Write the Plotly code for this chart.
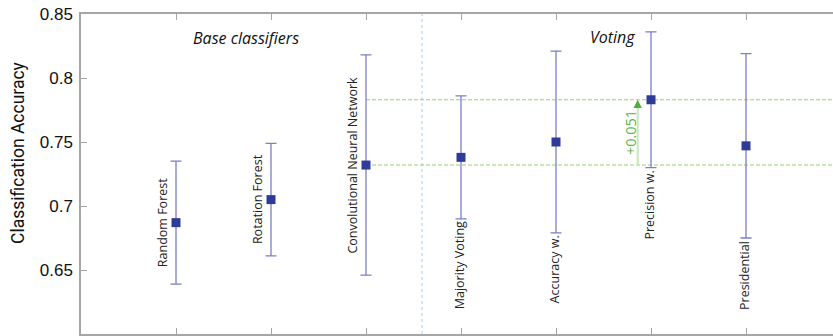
import plotly.graph_objects as go

# Classifier results: mean accuracy with lower / upper bounds
classifiers = ["Random Forest", "Rotation Forest", "Convolutional Neural Network",
               "Majority Voting", "Accuracy w.", "Precision w.", "Presidential"]
groups = ["base", "base", "base", "voting", "voting", "voting", "voting"]
accuracy = [0.687, 0.705, 0.732, 0.738, 0.750, 0.783, 0.747]
upper = [0.735, 0.749, 0.818, 0.786, 0.821, 0.836, 0.819]
lower = [0.639, 0.661, 0.646, 0.690, 0.679, 0.730, 0.675]
y_ticks = [0.65, 0.7, 0.75, 0.8, 0.85]

positions = list(range(1, len(classifiers) + 1))
err_plus = [u - a for u, a in zip(upper, accuracy)]
err_minus = [a - l for a, l in zip(accuracy, lower)]

X_MAX = 752 / 95.0
AXIS_GREY = "#a6a6a6"
BAR_BLUE = "#7b7fc8"
MARK_BLUE = "#2f3b98"

fig = go.Figure()
fig.add_trace(go.Scatter(
    x=positions, y=accuracy, mode="markers",
    marker=dict(symbol="square", size=9, color=MARK_BLUE),
    error_y=dict(type="data", symmetric=False, array=err_plus, arrayminus=err_minus,
                 color=BAR_BLUE, thickness=1.3, width=5.5),
    showlegend=False, hoverinfo="skip",
))

shapes = []
# reference levels: best base classifier and best voting scheme
base_best = accuracy[2]
vote_best = accuracy[5]
for level in (base_best, vote_best):
    shapes.append(dict(type="line", xref="x", yref="y", x0=positions[2], x1=X_MAX,
                       y0=level, y1=level,
                       line=dict(color="#94d46c", width=1, dash="4px,2px"),
                       layer="below"))
# separator between base classifiers and voting schemes
shapes.append(dict(type="line", xref="x", yref="paper", x0=3.59, x1=3.59, y0=0, y1=1,
                   line=dict(color="#9fd0f2", width=1, dash="dot"), layer="below"))
# gain arrow stem
arrow_x = 5.86
shapes.append(dict(type="line", xref="x", yref="y", x0=arrow_x, x1=arrow_x,
                   y0=base_best, y1=vote_best - 0.004,
                   line=dict(color="#c6e8b6", width=2)))

annotations = []
for i, (name, grp) in enumerate(zip(classifiers, groups)):
    if grp == "base":
        annotations.append(dict(x=positions[i], y=accuracy[i], xref="x", yref="y",
                                text=name, textangle=-90, showarrow=False,
                                xanchor="center", yanchor="middle", xshift=-13.5,
                                font=dict(family="Open Sans", size=12.5, color="#222222")))
    else:
        annotations.append(dict(x=positions[i], y=lower[i], xref="x", yref="y",
                                text=name, textangle=-90, showarrow=False,
                                xanchor="center", yanchor="top", xshift=-1.5, yshift=-1,
                                font=dict(family="Open Sans", size=12.5, color="#222222")))

annotations.append(dict(x=arrow_x, y=vote_best, xref="x", yref="y", showarrow=True,
                        ax=0, ay=7, arrowhead=2, arrowsize=1.1, arrowwidth=1.5,
                        arrowcolor="#4fae3a", standoff=0, text=""))
annotations.append(dict(x=arrow_x, y=(base_best + vote_best) / 2, xref="x", yref="y",
                        text="+%.3f" % (vote_best - base_best), textangle=-90,
                        showarrow=False, xanchor="center", yanchor="middle", xshift=-7,
                        font=dict(family="Open Sans", size=14.5, color="#5cb547")))
annotations.append(dict(x=1.74, y=0.831, xref="x", yref="y", text="<i>Base classifiers</i>",
                        showarrow=False, xanchor="center", yanchor="middle",
                        font=dict(family="Open Sans", size=16, color="#111111")))
annotations.append(dict(x=5.59, y=0.832, xref="x", yref="y", text="<i>Voting</i>",
                        showarrow=False, xanchor="center", yanchor="middle",
                        font=dict(family="Open Sans", size=16, color="#111111")))
annotations.append(dict(x=0, y=0.566, xref="paper", yref="paper", xshift=-63,
                        text="Classification Accuracy", textangle=-90, showarrow=False,
                        xanchor="center", yanchor="middle",
                        font=dict(family="Roboto", size=17.5, color="#111111")))

fig.update_layout(
    width=833, height=336,
    margin=dict(l=81, r=0, t=14, b=2),
    paper_bgcolor="white", plot_bgcolor="white",
    shapes=shapes, annotations=annotations,
    xaxis=dict(range=[0, X_MAX], tickvals=positions, showticklabels=False,
               ticks="inside", ticklen=6, tickcolor=AXIS_GREY, tickwidth=1,
               showline=True, linecolor=AXIS_GREY, linewidth=1.5, mirror="ticks",
               showgrid=False, zeroline=False, fixedrange=True),
    yaxis=dict(range=[0.6, 0.85], tickvals=y_ticks, ticktext=[("%g" % v) for v in y_ticks],
               ticks="inside", ticklen=6, tickcolor=AXIS_GREY, tickwidth=1,
               showline=True, linecolor=AXIS_GREY, linewidth=1.5,
               showgrid=False, zeroline=False, ticklabelstandoff=3,
               tickfont=dict(family="Liberation Sans", size=17, color="#111111")),
)

fig.write_html("out.html")
